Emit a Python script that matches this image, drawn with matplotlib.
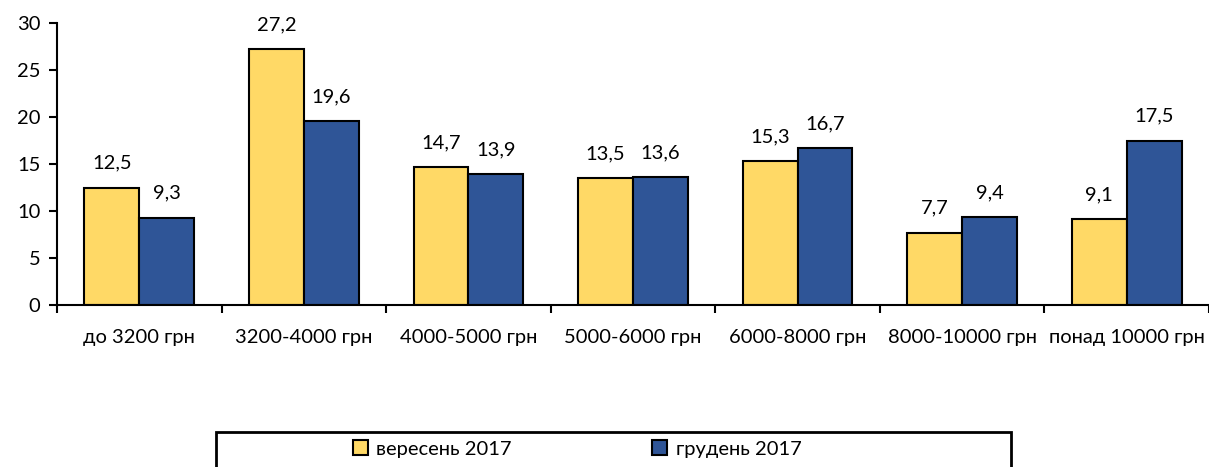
import matplotlib
matplotlib.use("Agg")
import matplotlib.pyplot as plt
import numpy as np
from matplotlib.patches import Rectangle, Patch

plt.rcParams['font.family'] = ['Lato', 'DejaVu Sans']

# categories and values
categories = ["до 3200 грн", "3200-4000 грн", "4000-5000 грн", "5000-6000 грн",
              "6000-8000 грн", "8000-10000 грн", "понад 10000 грн"]
sep_2017 = [12.5, 27.2, 14.7, 13.5, 15.3, 7.7, 9.1]
dec_2017 = [9.3, 19.6, 13.9, 13.6, 16.7, 9.4, 17.5]
series_names = ["вересень 2017", "грудень 2017"]

yellow = "#FFD966"
blue = "#2F5597"
fs = 14.5

fig = plt.figure(figsize=(12.09, 4.67), dpi=100)
ax = fig.add_axes([57 / 1209, 1 - 305 / 467, 1 - 57 / 1209, (305 - 23) / 467])

x = np.arange(len(categories))
w = 0.333
ax.bar(x - w / 2, sep_2017, w, color=yellow, edgecolor="black", linewidth=1.5, zorder=2)
ax.bar(x + w / 2, dec_2017, w, color=blue, edgecolor="black", linewidth=1.5, zorder=2)

def fmt(v):
    return ("%.1f" % v).replace(".", ",")

for xi, v in zip(x - w / 2, sep_2017):
    ax.annotate(fmt(v), (xi, v), xytext=(0, 13.5), textcoords="offset points",
                ha="center", va="baseline", fontsize=fs)
for xi, v in zip(x + w / 2, dec_2017):
    ax.annotate(fmt(v), (xi, v), xytext=(0, 13.5), textcoords="offset points",
                ha="center", va="baseline", fontsize=fs)

ax.set_xlim(-0.5, len(categories) - 0.5)
ax.set_ylim(0, 30)
ax.set_yticks(range(0, 31, 5))
ax.set_xticks(x)
ax.set_xticklabels(categories, fontsize=fs)
ax.set_xticks(np.arange(-0.5, len(categories), 1.0), minor=True)
ax.tick_params(axis="x", which="major", length=0, pad=17)
ax.tick_params(axis="x", which="minor", length=6, width=1.5, direction="out")
ax.tick_params(axis="y", length=6, width=1.5, direction="out", labelsize=fs, pad=6)

for s in ["top", "right"]:
    ax.spines[s].set_visible(False)
for s in ["left", "bottom"]:
    ax.spines[s].set_linewidth(1.5)

# legend box
fig.patches.append(Rectangle((216 / 1209, 1 - 480 / 467), (1011 - 216) / 1209, 48 / 467,
                             transform=fig.transFigure, fill=False, edgecolor="black",
                             linewidth=2))
handles = [Patch(facecolor=yellow, edgecolor="black", linewidth=1.5),
           Patch(facecolor=blue, edgecolor="black", linewidth=1.5)]
fig.legend(handles, series_names, loc="center", bbox_to_anchor=(577 / 1209, 1 - 449 / 467),
           ncol=2, frameon=False, fontsize=fs, handlelength=0.75, handleheight=0.75,
           handletextpad=0.4, columnspacing=7.0)

fig.savefig("out.png", dpi=100)
